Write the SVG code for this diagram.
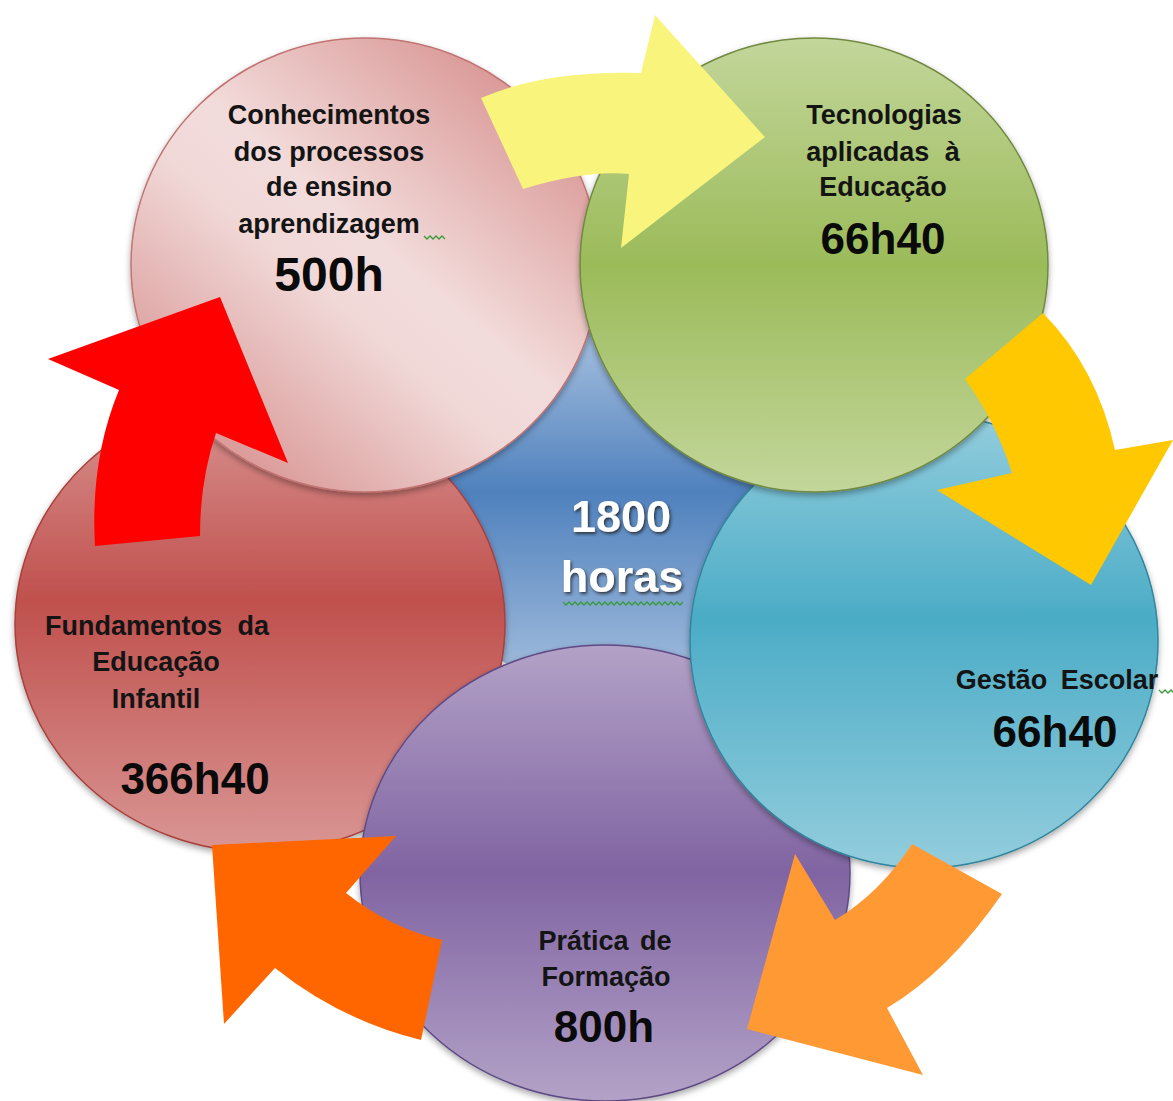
<svg xmlns="http://www.w3.org/2000/svg" width="1173" height="1101" viewBox="0 0 1173 1101">
<defs>
<style>
.lbl{font-family:"Liberation Sans",Arial,sans-serif;font-weight:bold;font-size:27px;fill:#141414;text-anchor:middle}
.hrs{font-family:"Liberation Sans",Arial,sans-serif;font-weight:bold;font-size:44px;fill:#0a0a0a;text-anchor:middle}
.ctr{font-family:"Liberation Sans",Arial,sans-serif;font-weight:bold;font-size:45px;fill:#ffffff;text-anchor:middle}
.sq{fill:none;stroke:#3a9a3a;stroke-width:1.3}
</style>
<filter id="sh" x="-10%" y="-10%" width="120%" height="125%">
<feDropShadow dx="0" dy="3" stdDeviation="3" flood-color="#000" flood-opacity="0.35"/>
</filter>
<filter id="tsh" x="-20%" y="-20%" width="140%" height="160%">
<feDropShadow dx="1.5" dy="2" stdDeviation="1.5" flood-color="#222" flood-opacity="0.8"/>
</filter>
<linearGradient id="gBlue" x1="0" y1="0" x2="0" y2="1">
<stop offset="0" stop-color="#a7c0df"/><stop offset="0.45" stop-color="#4f81bd"/><stop offset="1" stop-color="#a7c0df"/>
</linearGradient>
<linearGradient id="gRed" x1="0" y1="0" x2="0" y2="1">
<stop offset="0" stop-color="#d99694"/><stop offset="0.45" stop-color="#c0504d"/><stop offset="1" stop-color="#d99694"/>
</linearGradient>
<linearGradient id="gPurple" x1="0" y1="0" x2="0" y2="1">
<stop offset="0" stop-color="#b3a2c7"/><stop offset="0.5" stop-color="#8064a2"/><stop offset="1" stop-color="#b3a2c7"/>
</linearGradient>
<linearGradient id="gTeal" x1="0" y1="0" x2="0" y2="1">
<stop offset="0" stop-color="#93cddd"/><stop offset="0.45" stop-color="#4bacc6"/><stop offset="1" stop-color="#93cddd"/>
</linearGradient>
<linearGradient id="gGreen" x1="0" y1="0" x2="0" y2="1">
<stop offset="0" stop-color="#c3d69b"/><stop offset="0.5" stop-color="#9bbb59"/><stop offset="1" stop-color="#c3d69b"/>
</linearGradient>
<linearGradient id="gPink" x1="0.85" y1="0.1" x2="0.15" y2="0.9">
<stop offset="0" stop-color="#d99694"/><stop offset="0.45" stop-color="#f2dcdb"/><stop offset="0.6" stop-color="#f0d8d7"/><stop offset="1" stop-color="#d99694"/>
</linearGradient>
</defs>
<rect width="1173" height="1101" fill="#ffffff"/>

<g id="node-center">
<circle cx="600" cy="510" r="180" fill="url(#gBlue)"/>
<g filter="url(#tsh)">
<text class="ctr" x="621" y="532">1800</text>
<text class="ctr" x="622" y="592">horas</text>
</g>
<path class="sq" d="M563,602 l3,3 3,-3 3,3 3,-3 3,3 3,-3 3,3 3,-3 3,3 3,-3 3,3 3,-3 3,3 3,-3 3,3 3,-3 3,3 3,-3 3,3 3,-3 3,3 3,-3 3,3 3,-3 3,3 3,-3 3,3 3,-3 3,3 3,-3 3,3 3,-3 3,3 3,-3 3,3 3,-3 3,3 3,-3 3,3 3,-3"/>
</g>

<g id="node-fundamentos">
<ellipse cx="260" cy="624" rx="245" ry="228" fill="url(#gRed)" stroke="#a9403d" stroke-width="1.5" filter="url(#sh)"/>
<text class="lbl" x="157" y="635" word-spacing="8">Fundamentos da</text>
<text class="lbl" x="156" y="671">Educação</text>
<text class="lbl" x="156" y="708">Infantil</text>
<text class="hrs" x="195" y="794">366h40</text>
</g>

<g id="node-pratica">
<ellipse cx="605" cy="873" rx="245" ry="228" fill="url(#gPurple)" stroke="#5f4a85" stroke-width="1.5" filter="url(#sh)"/>
<text class="lbl" x="605" y="950" word-spacing="4">Prática de</text>
<text class="lbl" x="606" y="986">Formação</text>
<text class="hrs" x="604" y="1042">800h</text>
</g>

<g id="node-gestao">
<ellipse cx="924" cy="641" rx="234" ry="227" fill="url(#gTeal)" stroke="#31859c" stroke-width="1.5" filter="url(#sh)"/>
<text class="lbl" x="1057" y="689" word-spacing="6">Gestão Escolar</text>
<path class="sq" d="M1159,690 l3,3 3,-3 3,3 3,-3 3,3"/>
<text class="hrs" x="1055" y="747">66h40</text>
</g>

<g id="node-conhecimentos">
<ellipse cx="365" cy="265" rx="234" ry="227" fill="url(#gPink)" stroke="#c07472" stroke-width="1.5" filter="url(#sh)"/>
<text class="lbl" x="329" y="124">Conhecimentos</text>
<text class="lbl" x="329" y="161">dos processos</text>
<text class="lbl" x="329" y="196">de ensino</text>
<text class="lbl" x="329" y="233">aprendizagem</text>
<path class="sq" d="M424,236 l3,3 3,-3 3,3 3,-3 3,3 3,-3 3,3"/>
<text class="hrs" x="329" y="291" style="font-size:48px">500h</text>
</g>

<g id="node-tecnologias">
<ellipse cx="814" cy="265" rx="234" ry="227" fill="url(#gGreen)" stroke="#71893f" stroke-width="1.5" filter="url(#sh)"/>
<text class="lbl" x="884" y="124">Tecnologias</text>
<text class="lbl" x="883" y="161" word-spacing="8">aplicadas à</text>
<text class="lbl" x="883" y="196">Educação</text>
<text class="hrs" x="883" y="254">66h40</text>
</g>

<g id="connectors">
<path d="M481,98 Q545,70 641,73 L655,15 L765,137 L621,248 L629,174 Q585,170 523,189 Z" fill="#f8f47c"/>
<path d="M1043,313 Q1097,368 1115,450 L1173,440 L1091,585 L937,490 L1012,473 Q995,420 965,379 Z" fill="#ffc800"/>
<path d="M912,844 L1002,894 Q948,972 887,1008 L923,1075 L747,1029 L795,854 L835,920 Q880,893 912,844 Z" fill="#ff9933"/>
<path d="M442,940 L421,1040 Q340,1020 275,968 L224,1024 L212,845 L396,836 L346,893 Q390,928 442,940 Z" fill="#ff6600"/>
<path d="M95,546 L200,536 Q200,480 216,433 L288,463 L220,297 L48,359 L119,390 Q90,460 95,546 Z" fill="#ff0000"/>
</g>
</svg>
